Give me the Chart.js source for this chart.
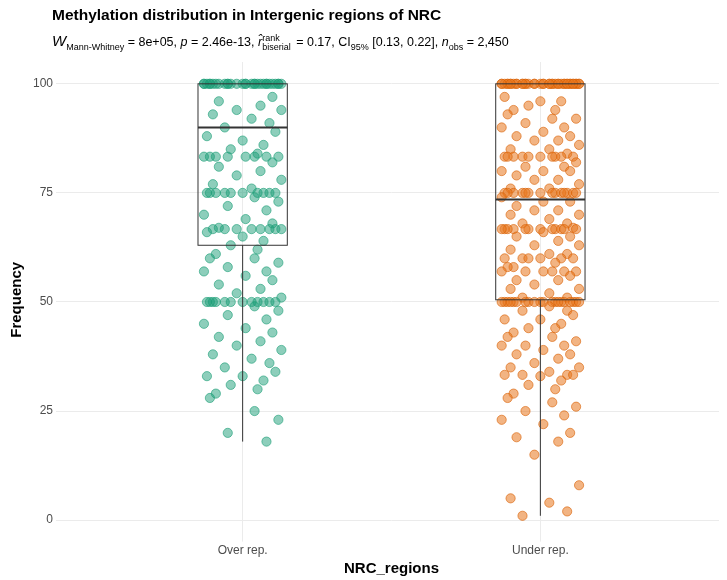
<!DOCTYPE html>
<html><head><meta charset="utf-8">
<script src="https://cdn.jsdelivr.net/npm/chart.js@4"></script>
<style>
body{margin:0;background:#fff;font-family:"Liberation Sans",Arial,sans-serif}
#wrap{position:relative;width:727px;height:580px}
#title{position:absolute;left:52px;top:6px;font-weight:bold;font-size:15.5px;color:#000}
#sub{position:absolute;left:52px;top:32px;font-size:12.5px;color:#000;white-space:nowrap}
.ss{display:inline-flex;flex-direction:column;vertical-align:middle;font-size:9px;line-height:9px;margin-right:2px}
sub{font-size:9px}
</style></head><body>
<div id="wrap">
<canvas id="c" width="727" height="580"></canvas>
<div id="title">Methylation distribution in Intergenic regions of NRC</div>
<div id="sub"><i style="font-size:15px">W</i><sub>Mann-Whitney</sub> = 8e+05, <i>p</i> = 2.46e-13, <i>r&#770;</i><span class="ss"><span>rank</span><span>biserial</span></span> = 0.17, CI<sub>95%</sub> [0.13, 0.22], <i>n</i><sub>obs</sub> = 2,450</div>
</div>
<script>
const categories = ['Over rep.', 'Under rep.'];
const overValues = [100,100,100,100,100,100,100,100,100,100,100,100,100,100,100,100,100,100,100,100,100,100,100,100,100,100,100,100,100,100,
 97,96,95,94,94,93,92,91,90,89,88,87,86,85,84,83.3,83.3,83.3,83.3,83.3,83.3,83.3,83.3,82,81,80,79,78,77,76,
 75,75,75,75,75,75,75,75,75,75,74,73,72,71,70,69,68,67,66.7,66.7,66.7,66.7,66.7,66.7,66.7,66.7,66,65,64,63,62,61,60,60,59,58,57,57,56,55,54,53,52,51,
 50,50,50,50,50,50,50,50,50,50,50,50,49,48,47,46,45,44,43,42,41,40,39,38,37,36,35,34,33,33,32,31,30,29,28,25,23,20,18];
const underValues = [100,100,100,100,100,100,100,100,100,100,100,100,100,100,100,100,100,100,100,100,100,100,100,100,100,100,100,100,100,100,100,100,100,100,100,100,100,100,100,100,
 97,96,96,95,94,94,93,92,92,91,90,90,89,88,88,87,87,86,85,85,84,83.3,83.3,83.3,83.3,83.3,83.3,83.3,83.3,83.3,83.3,82,81,81,80,80,80,79,78,78,77,76,76,
 75,75,75,75,75,75,75,75,75,75,75,75,75,75,74,73,73,72,71,71,70,70,69,68,68,67,66.7,66.7,66.7,66.7,66.7,66.7,66.7,66.7,66.7,66.7,66.7,66.7,66,65,65,64,63,63,62,61,61,
 60,60,60,60,60,60,59,58,58,57,57,57,57,57,57,56,55,55,54,53,53,52,51,51,
 50,50,50,50,50,50,50,50,50,50,50,50,50,50,50,50,50,50,50,50,49,48,48,47,46,46,45,44,44,43,42,42,41,40,40,40,39,38,38,37,36,35,35,34,33.3,33.3,33.3,33.3,33,32,31,30,29,28,27,26,25,24,23,22,20,19,18,15,8,5,4,2,1];
const jitter = [-0.11,0.04,0.12,-0.05,0.08,-0.13,0.01,0.10,-0.08,0.06,-0.02,0.13,-0.10,0.03,0.09,-0.06,0.11,-0.12,0.00,0.07,-0.04,0.05,-0.09];
// box stats: [min, q1, median, q3, max]
const overBox = [18, 63, 90, 100, 100];
const underBox = [1, 50.5, 73.5, 100, 100];
const yTicks = [0, 25, 50, 75, 100];

const pts = (vals, x) => vals.map((v, i) => ({x: x + jitter[i % jitter.length], y: v}));

const boxPlugin = {
  id: 'box',
  afterDatasetsDraw(chart) {
    const {ctx, scales: {x, y}} = chart;
    ctx.save();
    ctx.strokeStyle = '#333'; ctx.lineWidth = 1;
    [overBox, underBox].forEach((b, i) => {
      const c = i + 1, l = x.getPixelForValue(c - 0.15), r = x.getPixelForValue(c + 0.15), m = x.getPixelForValue(c);
      ctx.strokeRect(l, y.getPixelForValue(b[3]), r - l, y.getPixelForValue(b[1]) - y.getPixelForValue(b[3]));
      ctx.beginPath();
      ctx.moveTo(m, y.getPixelForValue(b[1])); ctx.lineTo(m, y.getPixelForValue(b[0]));
      ctx.stroke();
      ctx.lineWidth = 2;
      ctx.beginPath();
      ctx.moveTo(l, y.getPixelForValue(b[2])); ctx.lineTo(r, y.getPixelForValue(b[2]));
      ctx.stroke();
      ctx.lineWidth = 1;
    });
    ctx.restore();
  }
};

new Chart(document.getElementById('c'), {
  type: 'scatter',
  data: {datasets: [
    {data: pts(overValues, 1), backgroundColor: 'rgba(27,158,119,0.5)', borderColor: 'rgba(27,158,119,0.6)', pointRadius: 4.6},
    {data: pts(underValues, 2), backgroundColor: 'rgba(232,118,30,0.55)', borderColor: 'rgba(217,95,2,0.6)', pointRadius: 4.6}
  ]},
  options: {
    responsive: false, animation: false,
    layout: {padding: {top: 62, right: 8, left: 4, bottom: 0}},
    plugins: {legend: {display: false}, tooltip: {enabled: false}},
    scales: {
      x: {type: 'linear', min: 0.4, max: 2.6,
        afterBuildTicks: s => { s.ticks = [{value: 1}, {value: 2}]; },
        ticks: {callback: v => categories[v - 1], color: '#4d4d4d', font: {size: 12}, padding: 2},
        grid: {color: '#ebebeb', tickLength: 4}, border: {display: false},
        title: {display: true, text: 'NRC_regions', font: {size: 15, weight: 'bold'}, color: '#000', padding: {top: 0, bottom: 2}}},
      y: {min: -4, max: 105,
        afterBuildTicks: s => { s.ticks = yTicks.map(v => ({value: v})); },
        ticks: {color: '#4d4d4d', font: {size: 12}},
        grid: {color: '#ebebeb'}, border: {display: false},
        title: {display: true, text: 'Frequency', font: {size: 15, weight: 'bold'}, color: '#000'}}
    }
  },
  plugins: [boxPlugin]
});
</script>
</body></html>
